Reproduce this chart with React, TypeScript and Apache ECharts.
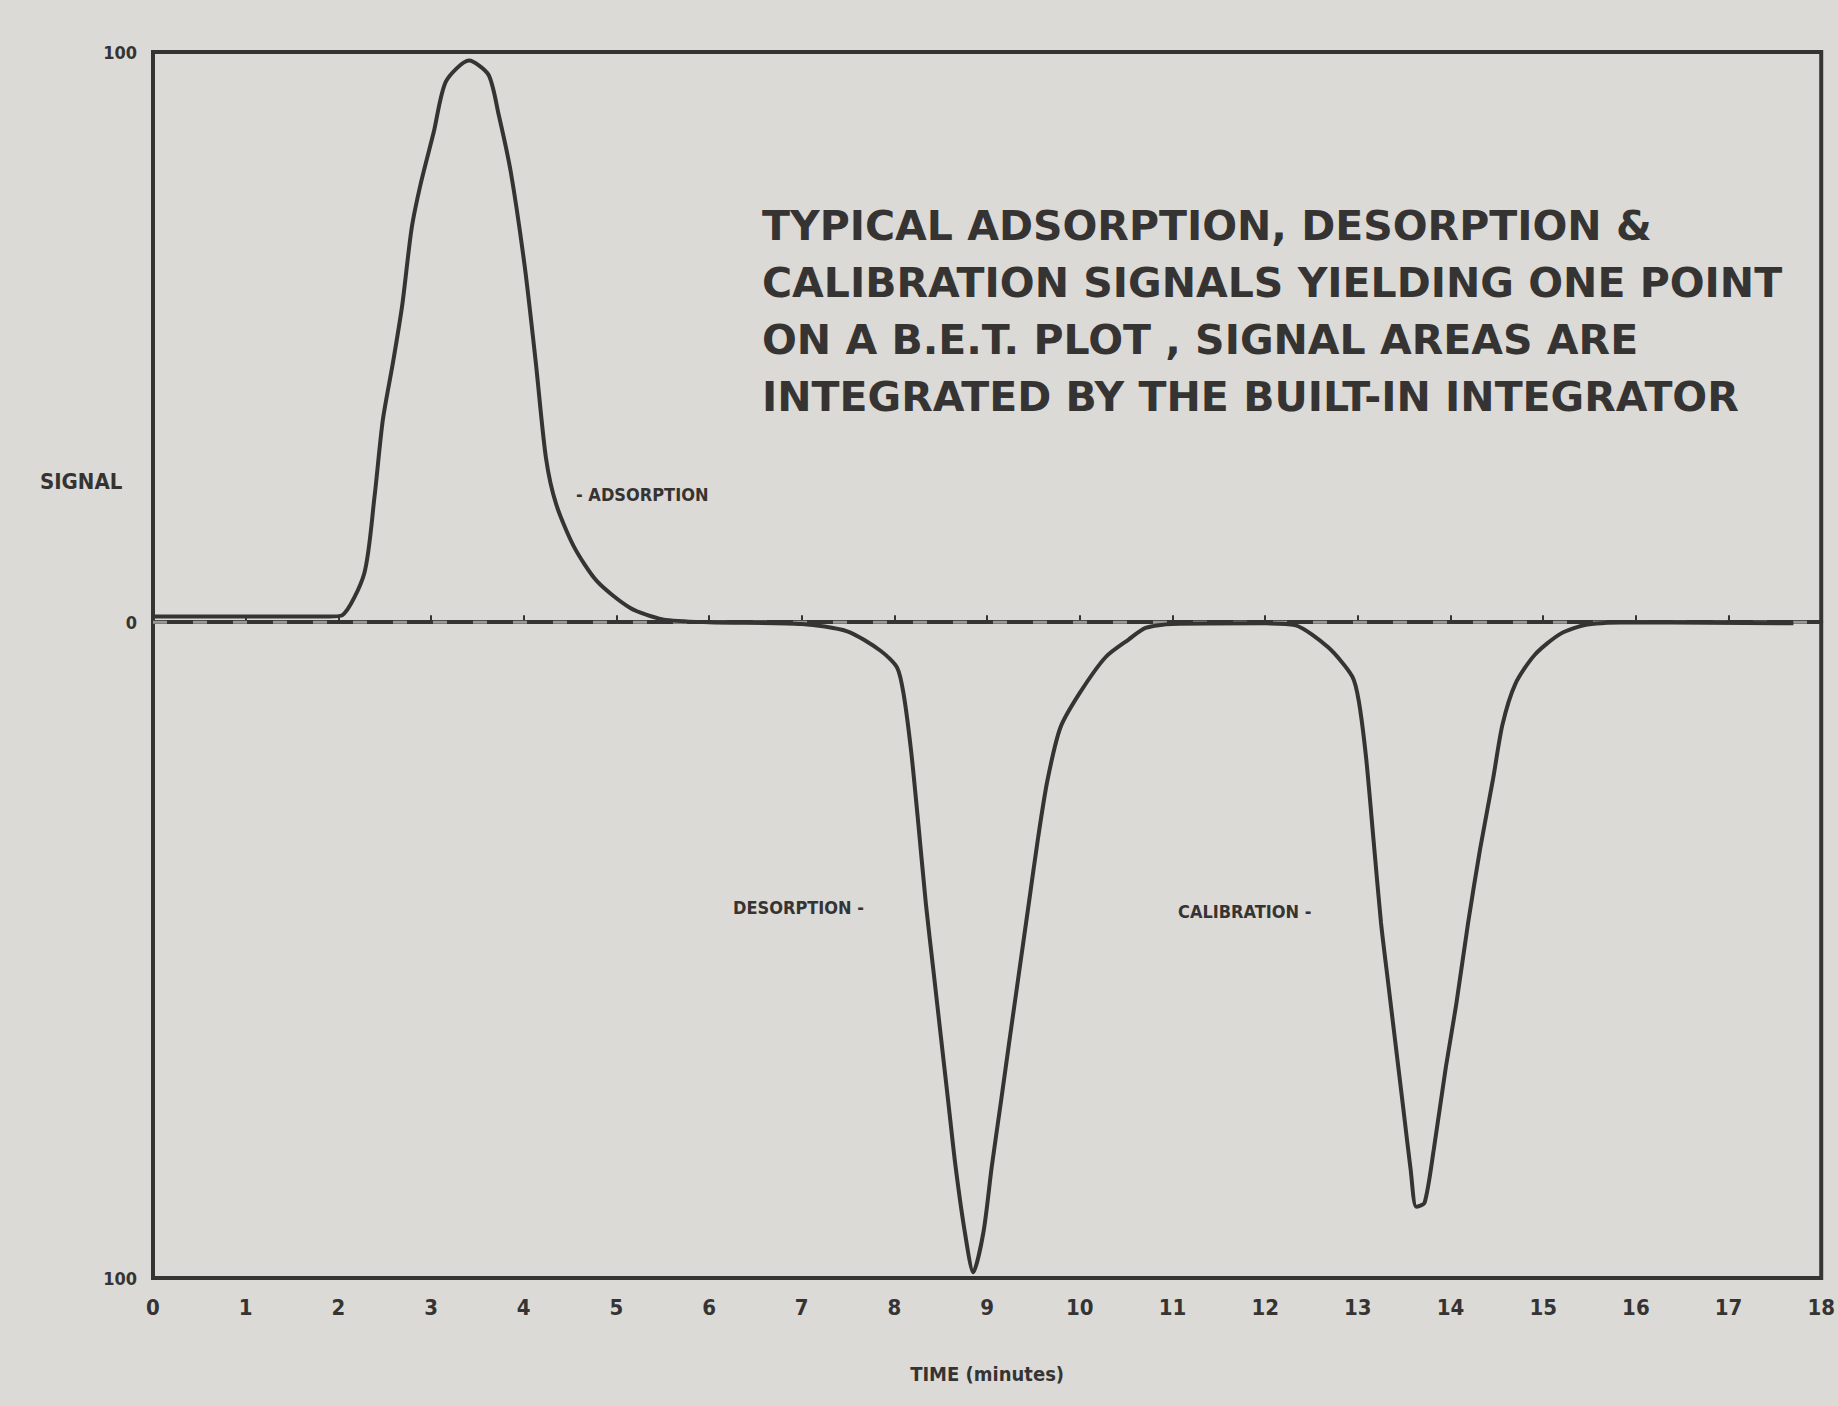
import React, { useEffect, useRef } from "react";
import * as echarts from "echarts";

// ---- data ----
const timeMinutes = [
  0, 1.0, 1.9, 2.04, 2.28, 2.39, 2.48, 2.59, 2.69, 2.79, 2.89, 3.03, 3.16, 3.41,
  3.62, 3.73, 3.86, 4.01, 4.13, 4.24, 4.35, 4.54, 4.79, 5.15, 5.5, 6.0, 7.0,
  7.49, 7.85, 8.03, 8.1, 8.18, 8.25, 8.34, 8.42, 8.5, 8.58, 8.66, 8.76, 8.85,
  8.96, 9.05, 9.15, 9.25, 9.35, 9.45, 9.55, 9.65, 9.79, 10.0, 10.28, 10.53, 10.71,
  11.0, 12.0, 12.32, 12.68, 12.94, 13.01, 13.09, 13.17, 13.25, 13.33, 13.41, 13.49,
  13.57, 13.63, 13.72, 13.82, 13.95, 14.06, 14.19, 14.32, 14.46, 14.56, 14.7,
  14.91, 15.19, 15.48, 16.0, 17.7,
];
const signalValues = [
  1, 1, 1, 1.2, 8.6, 22, 35.5, 45.6, 55.7, 69, 77, 86, 94.8, 98.5,
  96, 89, 79, 62.5, 45.6, 28.8, 20.7, 13.3, 7.2, 2.5, 0.5, 0, -0.3,
  -1.6, -5, -8, -12.7, -22.6, -34, -49.5, -61, -72.5, -84, -95.5, -107, -114,
  -107, -95.5, -84, -72.3, -60.8, -49.3, -37.8, -27.8, -18.5, -12.4, -6.1, -3, -1,
  -0.3, -0.2, -0.5, -4.4, -9.5, -13.8, -23.9, -38.3, -52.7, -63.6, -74.4, -85.2,
  -96, -102.5, -101.8, -92.4, -78, -67.2, -52.7, -39.7, -27.4, -18, -10.8,
  -5.7, -2, -0.4, 0, -0.2,
];
const baselineTimes = [0, 18];
const baselineValues = [0, 0];
const yTickValues = [-115, 0, 100];
const yTickLabels = ["100", "0", "100"];
const xTickLabels = Array.from({ length: 19 }, (_, i) => String(i));
const annotationLines = [
  "TYPICAL ADSORPTION, DESORPTION &",
  "CALIBRATION SIGNALS YIELDING ONE POINT",
  "ON A B.E.T. PLOT , SIGNAL AREAS ARE",
  "INTEGRATED BY THE BUILT-IN INTEGRATOR",
];

const INK = "#363433";
const BG = "#dcdad6";
const FONT = '"DejaVu Sans", "Liberation Sans", sans-serif';
const COND = '"DejaVu Sans Condensed", "DejaVu Sans", sans-serif';

export default function App() {
  const ref = useRef<HTMLDivElement>(null);

  useEffect(() => {
    if (!ref.current) return;
    const chart = echarts.init(ref.current, undefined, { renderer: "svg" });
    const curve = timeMinutes.map((t, i) => [t, signalValues[i]]);
    const base = baselineTimes.map((t, i) => [t, baselineValues[i]]);

    chart.setOption({
      animation: false,
      backgroundColor: BG,
      grid: {
        left: 153,
        right: 12,
        top: 52,
        bottom: 128,
        show: true,
        borderColor: INK,
        borderWidth: 4,
        backgroundColor: "transparent",
      },
      xAxis: {
        type: "value",
        min: 0,
        max: 18,
        interval: 1,
        name: "TIME (minutes)",
        nameLocation: "middle",
        nameGap: 86,
        nameTextStyle: { color: INK, fontFamily: COND, fontWeight: "bold", fontSize: 20 },
        axisLine: { show: true, lineStyle: { color: INK, width: 4 } },
        axisTick: { show: true, inside: true, length: 7, lineStyle: { color: INK, width: 2 } },
        splitLine: { show: false },
        axisLabel: {
          color: INK,
          fontFamily: COND,
          fontWeight: "bold",
          fontSize: 22,
          margin: 18,
          formatter: (v: number) => xTickLabels[Math.round(v)] ?? "",
        },
      },
      yAxis: {
        type: "value",
        min: -115,
        max: 100,
        axisLine: { show: true, lineStyle: { color: INK, width: 4 } },
        axisTick: { show: false },
        splitLine: { show: false },
        axisLabel: {
          color: INK,
          fontFamily: COND,
          fontWeight: "bold",
          fontSize: 18,
          margin: 16,
          customValues: yTickValues,
          formatter: (v: number) => {
            const idx = yTickValues.indexOf(v);
            return idx >= 0 ? yTickLabels[idx] : "";
          },
        },
      },
      series: [
        {
          type: "line",
          data: base,
          symbol: "none",
          z: 1,
          lineStyle: { color: "#9a9894", width: 3, type: [14, 26] },
          silent: true,
        },
        {
          type: "line",
          data: curve,
          symbol: "none",
          smooth: 0.25,
          z: 3,
          lineStyle: { color: INK, width: 4 },
        },
      ],
      graphic: [
        {
          type: "text",
          style: {
            x: 762,
            y: 311,
            text: annotationLines.join("\n"),
            fill: INK,
            font: `bold 41px ${FONT}`,
            lineHeight: 57,
            verticalAlign: "middle",
            align: "left",
          },
        },
        {
          type: "text",
          style: { x: 40, y: 481, text: "SIGNAL", fill: INK, font: `bold 22px ${COND}`, verticalAlign: "middle" },
        },
        {
          type: "text",
          style: { x: 576, y: 494, text: "- ADSORPTION", fill: INK, font: `bold 18px ${COND}`, verticalAlign: "middle" },
        },
        {
          type: "text",
          style: { x: 733, y: 907, text: "DESORPTION -", fill: INK, font: `bold 18px ${COND}`, verticalAlign: "middle" },
        },
        {
          type: "text",
          style: { x: 1178, y: 911, text: "CALIBRATION -", fill: INK, font: `bold 18px ${COND}`, verticalAlign: "middle" },
        },
      ],
    });
    return () => chart.dispose();
  }, []);

  return (
    <div
      ref={ref}
      style={{ position: "fixed", left: 0, top: 0, width: 1838, height: 1406, background: BG }}
    />
  );
}
